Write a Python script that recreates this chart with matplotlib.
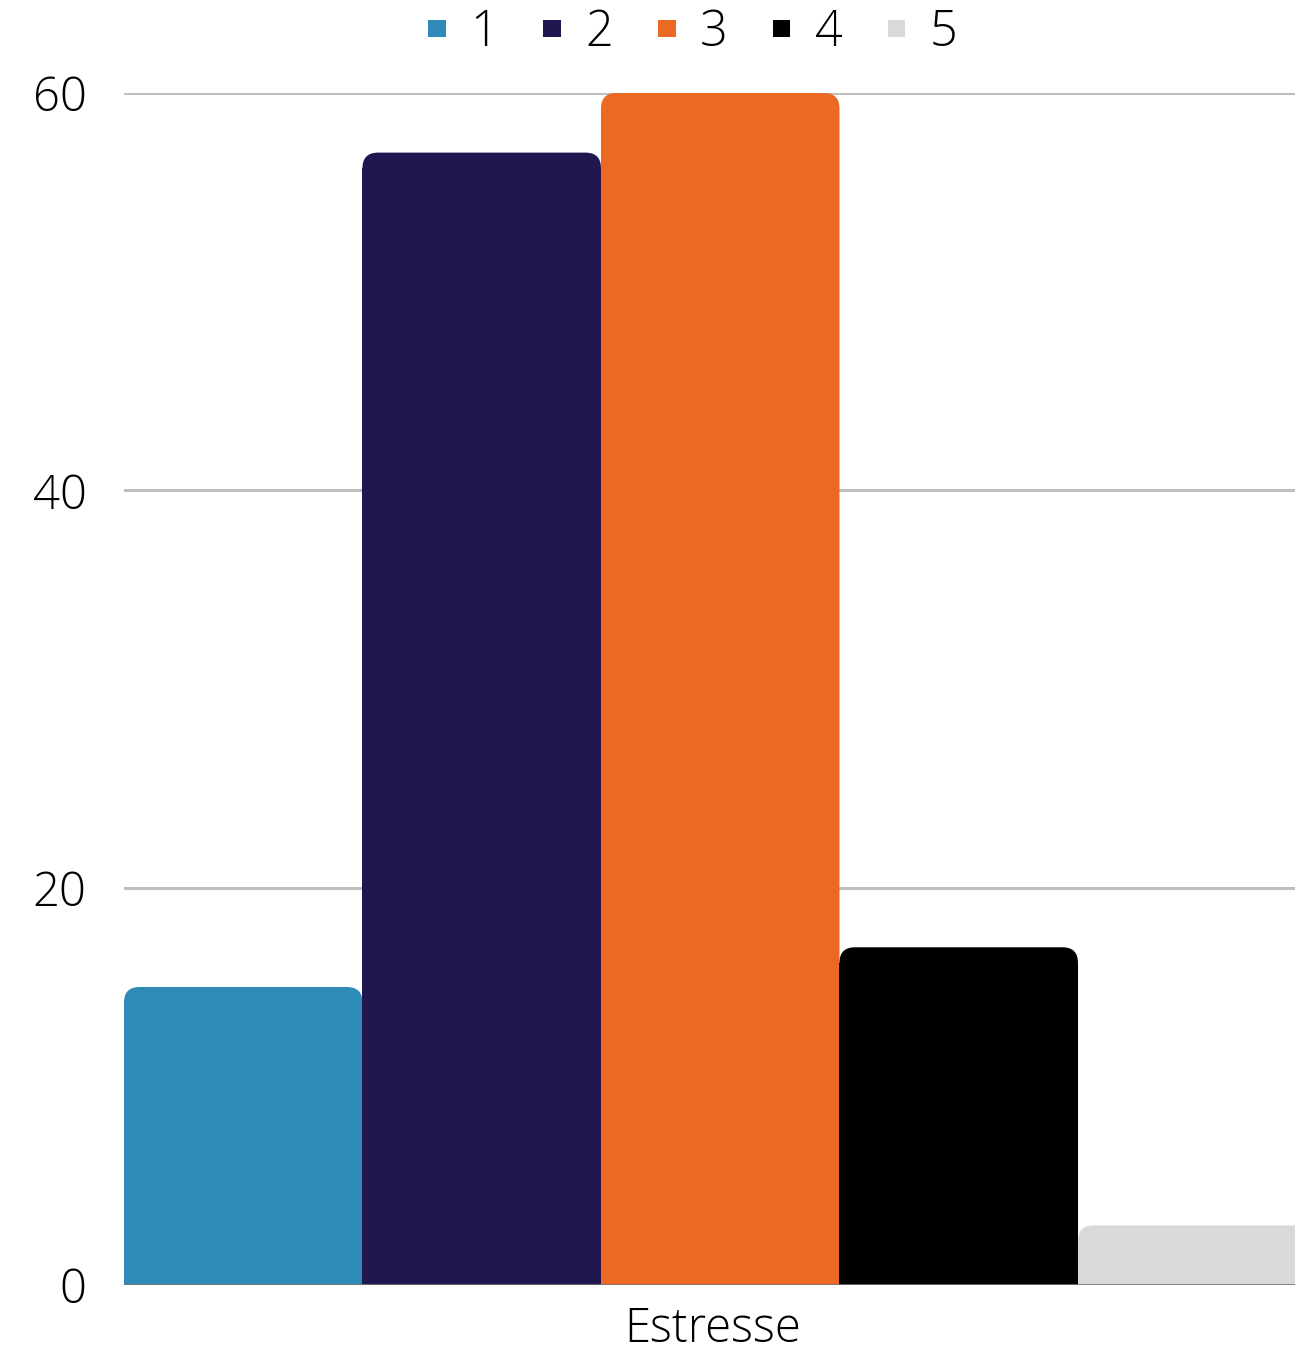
import matplotlib.pyplot as plt
from matplotlib.patches import FancyBboxPatch, Rectangle

plt.rcParams['font.family'] = ['Open Sans', 'DejaVu Sans']

category = "Estresse"
series = ["1", "2", "3", "4", "5"]
values = [15, 57, 60, 17, 3]
colors = ["#2E8BB8", "#221650", "#EB6923", "#000000", "#D9D9D9"]

fig = plt.figure(figsize=(12.95, 13.57), dpi=100)
ax = fig.add_axes([124 / 1295, 1 - 1285 / 1357, 1 - 124 / 1295, (1285 - 93) / 1357])

ax.set_xlim(0, 4.91)
ax.set_ylim(0, 60)

# rounded top corners: radius in x units, stretched vertically by the aspect
rx = 0.065
aspect = (238.6 / 19.87)
ry = rx * aspect

for i, (v, c) in enumerate(zip(values, colors)):
    bars = ax.bar(i, v - ry, width=1.0, align='edge', color=c, linewidth=0, zorder=2)
    b = bars[0]
    top = FancyBboxPatch((b.get_x(), 0), b.get_width(), v,
                         boxstyle="round,pad=0,rounding_size=%f" % rx,
                         mutation_aspect=aspect, facecolor=c, linewidth=0,
                         zorder=2, clip_on=False)
    ax.add_patch(top)

ax.set_yticks([0, 20, 40, 60])
ax.yaxis.grid(True, color="#BFBFBF", linewidth=2.2, zorder=0)
ax.set_axisbelow(True)
ax.axhline(0, color="#777777", linewidth=1.2, zorder=3)

ax.set_xticks([2.47])
ax.set_xticklabels([category])
ax.tick_params(axis='both', length=0, labelsize=34, colors="#000000")
ax.tick_params(axis='y', pad=27)
ax.tick_params(axis='x', pad=15)
for lbl in ax.get_xticklabels() + ax.get_yticklabels():
    lbl.set_fontweight('light')

for s in ax.spines.values():
    s.set_visible(False)

handles = [Rectangle((0, 0), 1, 1, facecolor=c, linewidth=0) for c in colors]
leg = fig.legend(handles, series, loc='center', bbox_to_anchor=(0.535, 1 - 33 / 1357),
                 ncol=5, frameon=False, handlelength=0.36,
                 handleheight=0.15, handletextpad=0.5, columnspacing=0.93,
                 prop={'weight': 'light', 'size': 35})

fig.savefig("out.png", dpi=100)
